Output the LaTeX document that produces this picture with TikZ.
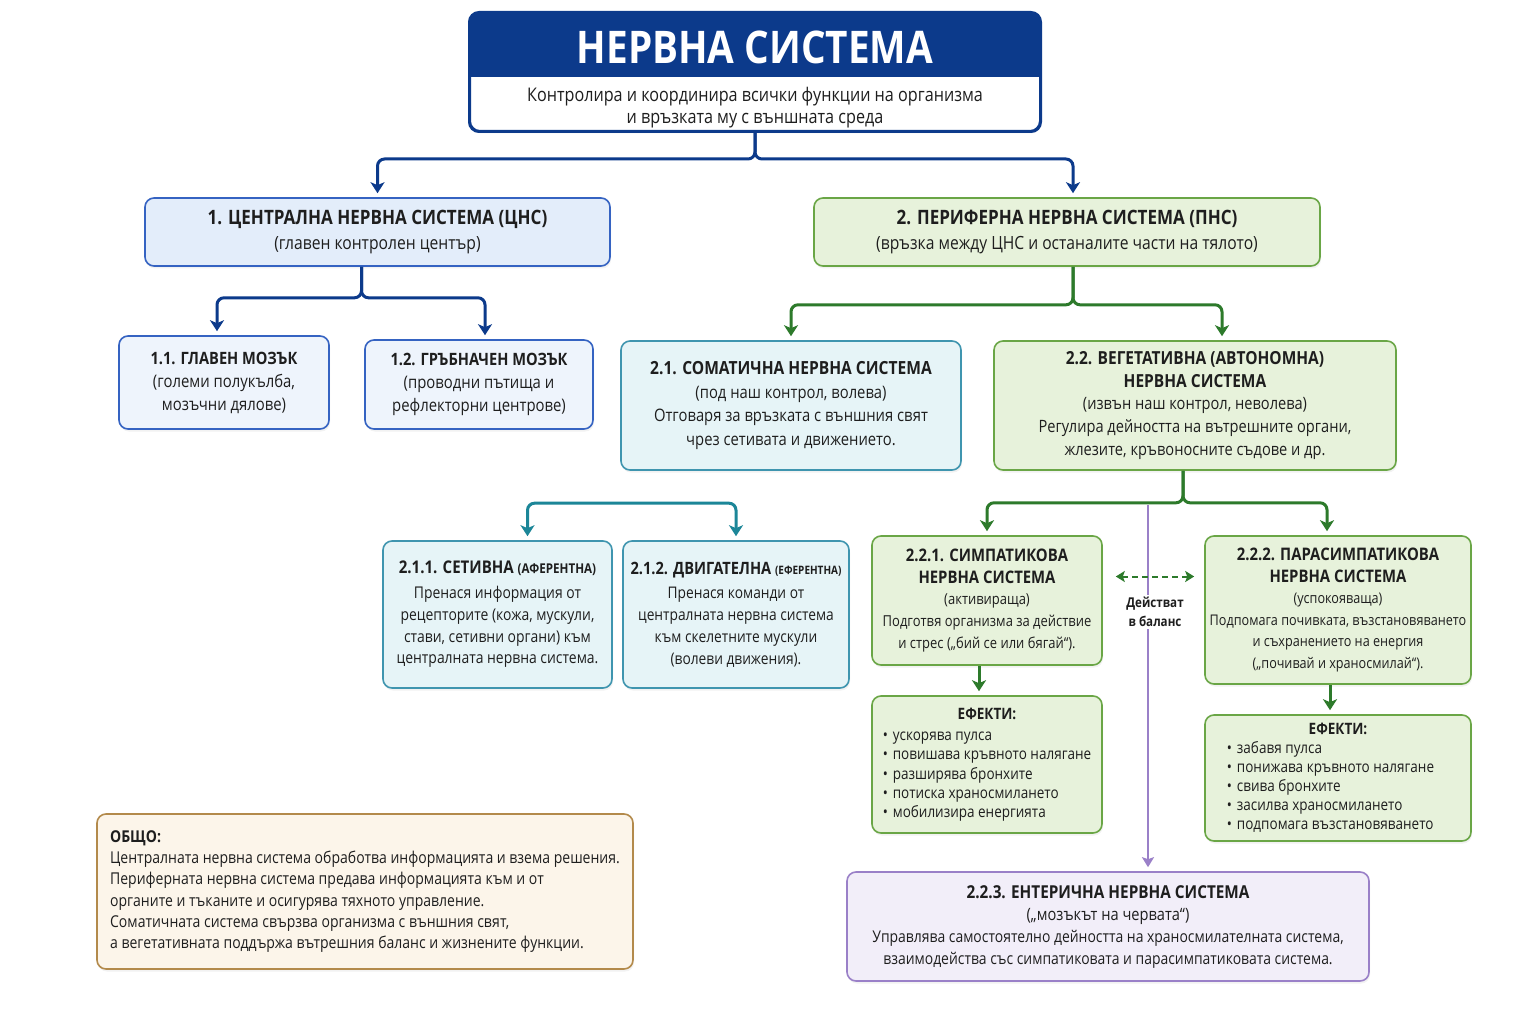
\documentclass[tikz,border=0pt]{standalone}
\usepackage{fontspec}
\setmainfont{Open Sans}[FakeStretch=0.86]
\usetikzlibrary{arrows.meta,calc,positioning,shadows}

\definecolor{navy}{HTML}{0C3A8B}
\definecolor{txt}{HTML}{1E1E1E}
\definecolor{blueline}{HTML}{3563C2}
\definecolor{bluefill}{HTML}{E3EDFA}
\definecolor{bluefillb}{HTML}{EEF4FC}
\definecolor{greenline}{HTML}{6AA646}
\definecolor{greenfill}{HTML}{E7F2DB}
\definecolor{greenarrow}{HTML}{2D7A2B}
\definecolor{tealline}{HTML}{3F95AF}
\definecolor{tealfill}{HTML}{E6F4F7}
\definecolor{tealarrow}{HTML}{1C8698}
\definecolor{purpleline}{HTML}{9A80C8}
\definecolor{purplefill}{HTML}{F2EEF9}
\definecolor{brownline}{HTML}{B38A4B}
\definecolor{brownfill}{HTML}{FCF5EA}

\newcommand{\bul}{\makebox[10pt][l]{•}}
\newcommand{\fs}[2]{\fontsize{#1}{#2}\selectfont}

\begin{document}
\begin{tikzpicture}[x=1pt,y=-1pt,
  box/.style={rounded corners=9pt,line width=1.6pt,align=center,inner sep=0pt,text=txt,
    drop shadow={opacity=0.10,shadow xshift=1pt,shadow yshift=-2.5pt}},
  bluebox/.style={box,draw=blueline,fill=bluefill},
  lightbluebox/.style={box,draw=blueline,fill=bluefillb},
  greenbox/.style={box,draw=greenline,fill=greenfill},
  tealbox/.style={box,draw=tealline,fill=tealfill},
  purplebox/.style={box,draw=purpleline,fill=purplefill},
  brownbox/.style={box,draw=brownline,fill=brownfill},
  tip/.style={-{Stealth[length=11pt,width=14pt,inset=3pt]}},
  conn/.style={line width=3pt,rounded corners=7pt,shorten >=4pt,tip},
  navyconn/.style={conn,draw=navy},
  greenconn/.style={conn,draw=greenarrow},
  tealconn/.style={conn,draw=tealarrow,shorten <=4pt,
    {Stealth[length=11pt,width=14pt,inset=3pt]}-{Stealth[length=11pt,width=14pt,inset=3pt]}},
  purpleconn/.style={line width=2pt,draw=purpleline,shorten >=4pt,
    -{Stealth[length=10pt,width=12pt,inset=2pt]}},
  balance/.style={line width=2pt,draw=greenarrow,dash pattern=on 6pt off 4pt,
    {Stealth[length=9pt,width=11pt,inset=2pt]}-{Stealth[length=9pt,width=11pt,inset=2pt]}},
]
\useasboundingbox (0,0) rectangle (1536,1024);
\fill[white] (0,0) rectangle (1536,1024);

% main title
\node[draw=navy,line width=2pt,fill=white,rounded corners=10pt,minimum width=570pt,minimum height=118pt,
  drop shadow={opacity=0.10,shadow xshift=1pt,shadow yshift=-2.5pt}] (ns) at (755,72) {};
\fill[navy,rounded corners=10pt] (ns.north west) rectangle ([yshift=-65pt]ns.north east);
\fill[navy] ([yshift=-40pt]ns.north west) rectangle ([yshift=-65pt]ns.north east);
\draw[navy,line width=2pt,rounded corners=10pt] (ns.north west) rectangle (ns.south east);
\node[text=white,font=\bfseries\fs{45}{45}] (nstitle) at (755,47) {НЕРВНА СИСТЕМА};
\node[align=center,text=txt,font=\fs{18.8}{22}] (nssub) at (755,107.5)
  {Контролира и координира всички функции на организма\\и връзката му с външната среда};

% level 1
\node[bluebox,minimum width=465pt,minimum height=68pt,font=\fs{18.2}{25}] (cns) at (377.5,232)
  {{\bfseries\fs{19.8}{25}1. ЦЕНТРАЛНА НЕРВНА СИСТЕМА (ЦНС)}\\(главен контролен център)};
\node[greenbox,minimum width=506pt,minimum height=68pt,font=\fs{18.2}{25}] (pns) at (1067,232)
  {{\bfseries\fs{19.8}{25}2. ПЕРИФЕРНА НЕРВНА СИСТЕМА (ПНС)}\\(връзка между ЦНС и останалите части на тялото)};

\draw[navyconn] (ns.south) -- ++(0,27) -| (cns.north);
\draw[navyconn] (ns.south) -- ++(0,27) -| ([xshift=6pt]pns.north);

% CNS parts
\node[lightbluebox,minimum width=210pt,minimum height=93pt,font=\fs{17.3}{23}] (brain) at (224,382.5)
  {{\bfseries\fs{17}{23}1.1. ГЛАВЕН МОЗЪК}\\(големи полукълба,\\мозъчни дялове)};
\node[lightbluebox,minimum width=228pt,minimum height=89pt,font=\fs{17.3}{23}] (spine) at (479,384.5)
  {{\bfseries\fs{17}{23}1.2. ГРЪБНАЧЕН МОЗЪК}\\(проводни пътища и\\рефлекторни центрове)};

\draw[navyconn] ([xshift=-16pt]cns.south) -- ++(0,31) -| ([xshift=-7pt]brain.north);
\draw[navyconn] ([xshift=-16pt]cns.south) -- ++(0,31) -| ([xshift=6pt]spine.north);

% PNS parts
\node[tealbox,minimum width=340pt,minimum height=129pt,font=\fs{17.2}{23.7}] (soma) at (791,405.5)
  {{\bfseries\fs{18.1}{23.7}2.1. СОМАТИЧНА НЕРВНА СИСТЕМА}\\(под наш контрол, волева)\\Отговаря за връзката с външния свят\\чрез сетивата и движението.};
\node[greenbox,minimum width=402pt,minimum height=129pt,font=\fs{17}{22.7}] (veg) at (1195,405.5)
  {{\bfseries\fs{18}{22.7}2.2. ВЕГЕТАТИВНА (АВТОНОМНА)}\\{\bfseries\fs{18}{22.7}НЕРВНА СИСТЕМА}\\(извън наш контрол, неволева)\\Регулира дейността на вътрешните органи,\\жлезите, кръвоносните съдове и др.};

\draw[greenconn] ([xshift=6pt]pns.south) -- ++(0,38) -| (soma.north);
\draw[greenconn] ([xshift=6pt]pns.south) -- ++(0,38) -| ([xshift=27pt]veg.north);

% somatic parts
\node[tealbox,minimum width=229pt,minimum height=147pt,font=\fs{16.2}{21.7}] (sens) at (497.5,614.5)
  {{\bfseries\fs{17.5}{21.7}2.1.1. СЕТИВНА \fs{13.5}{21.7}(АФЕРЕНТНА)}\\[3pt]Пренася информация от\\рецепторите (кожа, мускули,\\стави, сетивни органи) към\\централната нервна система.};
\node[tealbox,minimum width=226pt,minimum height=147pt,font=\fs{16}{21.7}] (motor) at (736,614.5)
  {{\bfseries\fs{17}{21.7}2.1.2. ДВИГАТЕЛНА \fs{11.6}{21.7}(ЕФЕРЕНТНА)}\\[3pt]Пренася команди от\\централната нервна система\\към скелетните мускули\\(волеви движения).};

\draw[tealconn] ([xshift=30pt]sens.north) -- ++(0,-37) -| (motor.north);

% autonomic parts
\node[greenbox,minimum width=230pt,minimum height=129pt,font=\fs{15.1}{21.7}] (symp) at (987,600.5)
  {{\bfseries\fs{17.3}{21.7}2.2.1. СИМПАТИКОВА}\\{\bfseries\fs{17.3}{21.7}НЕРВНА СИСТЕМА}\\(активираща)\\Подготвя организма за действие\\и стрес („бий се или бягай“).};
\node[greenbox,minimum width=266pt,minimum height=148pt,font=\fs{14.7}{21.6}] (para) at (1338,610)
  {{\bfseries\fs{17.3}{21.6}2.2.2. ПАРАСИМПАТИКОВА}\\{\bfseries\fs{17.3}{21.6}НЕРВНА СИСТЕМА}\\(успокояваща)\\Подпомага почивката, възстановяването\\и съхранението на енергия\\(„почивай и храносмилай“).};

\draw[greenconn] ([xshift=-12pt]veg.south) -- ++(0,32) -| (symp.north);
\draw[greenconn] ([xshift=-12pt]veg.south) -- ++(0,32) -| ([xshift=-11pt]para.north);

% effects
\node[greenbox,minimum width=230pt,minimum height=137pt,font=\fs{15.7}{19.3}] (eff1) at (987,764.5)
  {\begin{tabular}{@{}l@{}}\multicolumn{1}{c}{\textbf{ЕФЕКТИ:}}\\[2pt]
   \bul ускорява пулса\\ \bul повишава кръвното налягане\\ \bul разширява бронхите\\
   \bul потиска храносмилането\\ \bul мобилизира енергията\end{tabular}};
\node[greenbox,minimum width=266pt,minimum height=126pt,font=\fs{15.7}{19}] (eff2) at (1338,778)
  {\begin{tabular}{@{}l@{\hspace{15pt}}}\multicolumn{1}{c}{\textbf{ЕФЕКТИ:}}\\[0pt]
   \bul забавя пулса\\ \bul понижава кръвното налягане\\ \bul свива бронхите\\
   \bul засилва храносмилането\\ \bul подпомага възстановяването\end{tabular}};

\draw[greenconn] ([xshift=-8pt]symp.south) -- ([xshift=-8pt]eff1.north);
\draw[greenconn] ([xshift=-8pt]para.south) -- ([xshift=-8pt]eff2.north);

% enteric
\node[purplebox,minimum width=522pt,minimum height=109pt,font=\fs{16.2}{22}] (ent) at (1108,926.5)
  {{\bfseries\fs{17.8}{22}2.2.3. ЕНТЕРИЧНА НЕРВНА СИСТЕМА}\\{\fs{17}{22}(„мозъкът на червата“)}\\Управлява самостоятелно дейността на храносмилателната система,\\взаимодейства със симпатиковата и парасимпатиковата система.};

\coordinate (bal) at (1148,505);
\draw[purpleconn] (bal) -- (bal |- ent.north);

\coordinate (d1) at ([yshift=24pt]symp.east);
\draw[balance,shorten <=13pt,shorten >=10pt] (d1) -- (d1 -| para.west);
\node[fill=white,align=center,inner sep=2pt,text=txt,font=\bfseries\fs{13.5}{19}] (baltext) at (1155,612) {Действат\\в баланс};

% summary
\node[brownbox,minimum width=536pt,minimum height=155pt,align=left,font=\fs{16.3}{21.2}] (total) at (365,891.5)
  {\textbf{ОБЩО:}\\Централната нервна система обработва информацията и взема решения.\\Периферната нервна система предава информацията към и от\\органите и тъканите и осигурява тяхното управление.\\Соматичната система свързва организма с външния свят,\\а вегетативната поддържа вътрешния баланс и жизнените функции.};
\end{tikzpicture}
\end{document}
